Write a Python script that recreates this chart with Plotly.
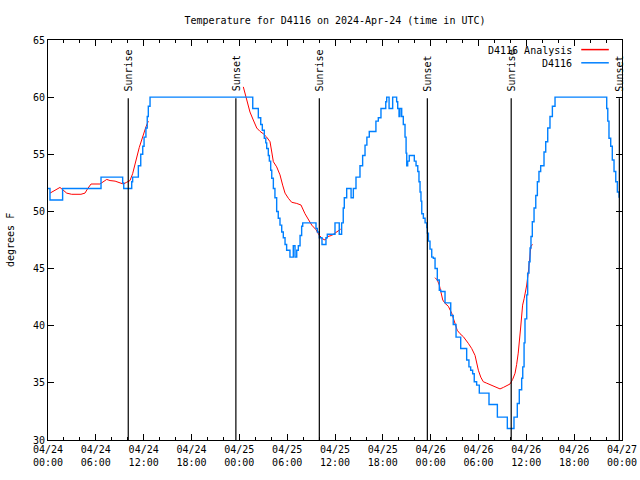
import plotly.graph_objects as go

# ---- data ----
obs_times = [
    "2024-04-24 00:00", "2024-04-24 00:15", "2024-04-24 01:50", "2024-04-24 06:39", "2024-04-24 09:22",
    "2024-04-24 09:30", "2024-04-24 10:30", "2024-04-24 10:37", "2024-04-24 11:20", "2024-04-24 11:38",
    "2024-04-24 11:53", "2024-04-24 12:03", "2024-04-24 12:17", "2024-04-24 12:27", "2024-04-24 12:35",
    "2024-04-24 12:48",
    "2024-04-25 01:41", "2024-04-25 02:23", "2024-04-25 02:41", "2024-04-25 02:53", "2024-04-25 03:08",
    "2024-04-25 03:19", "2024-04-25 03:26", "2024-04-25 03:38", "2024-04-25 03:46", "2024-04-25 03:56",
    "2024-04-25 04:04", "2024-04-25 04:16", "2024-04-25 04:28", "2024-04-25 04:41", "2024-04-25 04:53",
    "2024-04-25 05:06", "2024-04-25 05:19", "2024-04-25 05:31", "2024-04-25 05:44", "2024-04-25 05:56",
    "2024-04-25 06:21", "2024-04-25 06:46", "2024-04-25 06:59", "2024-04-25 07:12", "2024-04-25 07:24",
    "2024-04-25 07:37", "2024-04-25 07:49", "2024-04-25 07:57", "2024-04-25 09:37", "2024-04-25 09:47",
    "2024-04-25 10:02", "2024-04-25 10:22", "2024-04-25 10:52", "2024-04-25 11:02", "2024-04-25 12:00",
    "2024-04-25 12:32", "2024-04-25 12:50", "2024-04-25 13:02", "2024-04-25 13:10", "2024-04-25 13:28",
    "2024-04-25 14:01", "2024-04-25 14:18", "2024-04-25 14:38", "2024-04-25 15:08", "2024-04-25 15:28",
    "2024-04-25 15:46", "2024-04-25 16:00", "2024-04-25 16:18", "2024-04-25 17:08", "2024-04-25 17:26",
    "2024-04-25 17:46", "2024-04-25 18:22", "2024-04-25 18:29", "2024-04-25 18:47", "2024-04-25 19:14",
    "2024-04-25 19:44", "2024-04-25 19:52", "2024-04-25 20:02", "2024-04-25 20:09", "2024-04-25 20:22",
    "2024-04-25 20:34", "2024-04-25 20:47", "2024-04-25 20:55", "2024-04-25 21:00", "2024-04-25 21:07",
    "2024-04-25 21:19", "2024-04-25 21:57", "2024-04-25 22:10", "2024-04-25 22:23", "2024-04-25 22:32",
    "2024-04-25 22:40", "2024-04-25 22:47", "2024-04-25 22:53", "2024-04-25 23:05", "2024-04-25 23:18",
    "2024-04-25 23:31", "2024-04-25 23:35", "2024-04-25 23:43", "2024-04-25 23:55",
    "2024-04-26 00:08", "2024-04-26 00:20", "2024-04-26 00:33", "2024-04-26 00:50", "2024-04-26 01:05",
    "2024-04-26 01:16", "2024-04-26 01:48", "2024-04-26 02:31", "2024-04-26 02:50", "2024-04-26 03:11",
    "2024-04-26 03:46", "2024-04-26 04:31", "2024-04-26 04:48", "2024-04-26 05:01", "2024-04-26 05:16",
    "2024-04-26 05:28", "2024-04-26 05:46", "2024-04-26 06:06", "2024-04-26 07:19", "2024-04-26 08:22",
    "2024-04-26 09:37", "2024-04-26 10:27", "2024-04-26 10:52", "2024-04-26 11:07", "2024-04-26 11:25",
    "2024-04-26 11:33", "2024-04-26 11:43", "2024-04-26 11:50", "2024-04-26 12:03", "2024-04-26 12:10",
    "2024-04-26 12:20", "2024-04-26 12:28", "2024-04-26 12:35", "2024-04-26 12:45", "2024-04-26 12:58",
    "2024-04-26 13:11", "2024-04-26 13:23", "2024-04-26 13:35", "2024-04-26 13:48", "2024-04-26 14:13",
    "2024-04-26 14:26", "2024-04-26 14:41", "2024-04-26 14:58", "2024-04-26 15:16", "2024-04-26 15:36",
    "2024-04-26 22:05", "2024-04-26 22:13", "2024-04-26 22:22", "2024-04-26 22:35", "2024-04-26 22:47",
    "2024-04-26 23:00", "2024-04-26 23:13", "2024-04-26 23:25", "2024-04-26 23:38",
]
obs_temps = [
    52.0, 51.0, 52.0, 53.0, 52.5,
    52.0, 52.6, 53.0, 54.0, 55.0,
    55.7, 56.5, 57.3, 58.3, 59.2,
    60.0,
    59.0, 58.2, 57.6, 57.1, 56.4,
    56.0, 55.5, 54.9, 54.4, 53.6,
    52.9, 52.0, 51.2, 50.0, 49.4,
    48.8, 48.2, 47.7, 47.1, 46.6,
    46.0, 47.0, 46.0, 46.6, 47.0,
    47.9, 48.7, 49.0, 48.5, 48.2,
    47.7, 47.1, 47.7, 48.0, 49.0,
    48.0, 49.0, 50.3, 51.2, 52.0,
    51.2, 52.0, 53.0, 54.0, 54.9,
    55.8, 56.5, 57.0, 57.9, 58.2,
    59.0, 59.6, 60.0, 59.0, 60.0,
    59.6, 59.0, 58.3, 59.0, 58.3,
    57.6, 56.5, 55.1, 54.0, 54.4,
    54.9, 54.4, 54.0, 53.5, 52.6,
    51.7, 50.9, 49.8, 49.4, 49.0,
    48.6, 48.1, 47.4, 46.7,
    46.0, 45.9, 45.0, 44.0, 43.1,
    43.0, 42.0, 40.9, 40.1, 39.0,
    38.0, 37.0, 36.4, 36.1, 35.8,
    35.1, 34.8, 34.1, 33.1, 32.0,
    31.0, 32.0, 33.2, 34.4, 35.4,
    36.4, 38.5, 40.6, 42.7, 44.6,
    45.6, 46.8, 47.8, 49.1, 50.3,
    51.4, 52.6, 53.5, 54.0, 55.2,
    56.1, 57.3, 58.3, 59.2, 60.0,
    59.0, 57.9, 56.4, 55.7, 54.5,
    53.5, 52.6, 51.7, 51.2,
]

ana_times = [
    "2024-04-24 00:15", "2024-04-24 01:30", "2024-04-24 02:21", "2024-04-24 02:58", "2024-04-24 04:08",
    "2024-04-24 04:38", "2024-04-24 04:59", "2024-04-24 05:24", "2024-04-24 06:31", "2024-04-24 06:56",
    "2024-04-24 07:22", "2024-04-24 07:47", "2024-04-24 08:25", "2024-04-24 09:02", "2024-04-24 09:27",
    "2024-04-24 09:52", "2024-04-24 10:17", "2024-04-24 10:37", "2024-04-24 10:55", "2024-04-24 11:12",
    "2024-04-24 11:27", "2024-04-24 11:45", "2024-04-24 12:03", "2024-04-24 12:17", "2024-04-24 12:35",
    "2024-04-24 18:00",
    "2024-04-25 00:30", "2024-04-25 00:55", "2024-04-25 01:20", "2024-04-25 01:45", "2024-04-25 02:11",
    "2024-04-25 02:36", "2024-04-25 03:00", "2024-04-25 03:26", "2024-04-25 03:51", "2024-04-25 04:04",
    "2024-04-25 04:16", "2024-04-25 04:41", "2024-04-25 05:06", "2024-04-25 05:26", "2024-04-25 05:44",
    "2024-04-25 06:09", "2024-04-25 06:34", "2024-04-25 07:12", "2024-04-25 07:44", "2024-04-25 08:14",
    "2024-04-25 08:39", "2024-04-25 09:05", "2024-04-25 09:37", "2024-04-25 10:02", "2024-04-25 10:27",
    "2024-04-25 10:45", "2024-04-25 11:05", "2024-04-25 11:35", "2024-04-25 12:00", "2024-04-25 12:25",
    "2024-04-25 12:43",
    "2024-04-25 18:00",
    "2024-04-26 00:33", "2024-04-26 00:50", "2024-04-26 01:05", "2024-04-26 01:16", "2024-04-26 01:31",
    "2024-04-26 01:48", "2024-04-26 02:13", "2024-04-26 02:38", "2024-04-26 03:03", "2024-04-26 03:20",
    "2024-04-26 03:41", "2024-04-26 04:06", "2024-04-26 04:43", "2024-04-26 05:09", "2024-04-26 05:34",
    "2024-04-26 05:59", "2024-04-26 06:17", "2024-04-26 06:36", "2024-04-26 07:02", "2024-04-26 07:39",
    "2024-04-26 08:04", "2024-04-26 08:42", "2024-04-26 09:07", "2024-04-26 09:32", "2024-04-26 09:57",
    "2024-04-26 10:17", "2024-04-26 10:35", "2024-04-26 10:47", "2024-04-26 10:59", "2024-04-26 11:17",
    "2024-04-26 11:32", "2024-04-26 11:44", "2024-04-26 12:03", "2024-04-26 12:15", "2024-04-26 12:35",
    "2024-04-26 12:48",
]
ana_temps = [
    51.6, 52.1, 51.6, 51.5, 51.5,
    51.6, 52.0, 52.4, 52.4, 52.6,
    52.8, 52.7, 52.65, 52.5, 52.4,
    52.55, 52.7, 53.3, 54.2, 55.1,
    55.6, 56.25, 57.0, 57.4, 57.9,
    None,
    60.9, 59.9, 58.7, 58.0, 57.3,
    57.0, 56.8, 56.5, 56.1, 55.2,
    54.35, 53.9, 53.2, 52.3, 51.6,
    51.15, 50.8, 50.7, 50.56, 49.8,
    49.25, 48.8, 48.4, 47.9, 47.6,
    47.5, 47.8, 47.9, 48.1, 48.3,
    48.45,
    None,
    44.2, 44.0, 43.56, 43.0, 42.25,
    41.96, 41.7, 41.1, 40.2, 39.6,
    39.3, 39.04, 38.46, 38.0, 37.4,
    36.1, 35.5, 35.1, 34.97, 34.8,
    34.67, 34.47, 34.6, 34.75, 34.9,
    35.3, 35.84, 36.6, 37.6, 39.8,
    41.8, 42.4, 43.56, 44.7, 47.0,
    47.1,
]

event_times = ["2024-04-24 10:04", "2024-04-24 23:34", "2024-04-25 10:02",
               "2024-04-25 23:35", "2024-04-26 10:06", "2024-04-26 23:40"]
event_labels = ["Sunrise", "Sunset", "Sunrise", "Sunset", "Sunrise", "Sunset"]

tick_vals = ["2024-04-24 00:00", "2024-04-24 06:00", "2024-04-24 12:00", "2024-04-24 18:00",
             "2024-04-25 00:00", "2024-04-25 06:00", "2024-04-25 12:00", "2024-04-25 18:00",
             "2024-04-26 00:00", "2024-04-26 06:00", "2024-04-26 12:00", "2024-04-26 18:00",
             "2024-04-27 00:00"]
tick_labels = ["04/24<br>00:00", "04/24<br>06:00", "04/24<br>12:00", "04/24<br>18:00",
               "04/25<br>00:00", "04/25<br>06:00", "04/25<br>12:00", "04/25<br>18:00",
               "04/26<br>00:00", "04/26<br>06:00", "04/26<br>12:00", "04/26<br>18:00",
               "04/27<br>00:00"]

series_names = ["D4116 Analysis", "D4116"]
series_colors = ["#ff0000", "#0080ff"]

FONT = "DejaVu Sans Mono"

fig = go.Figure()
fig.add_trace(go.Scatter(x=ana_times, y=ana_temps, mode="lines", name=series_names[0],
                         line=dict(color=series_colors[0], width=1), connectgaps=False))
fig.add_trace(go.Scatter(x=obs_times, y=obs_temps, mode="lines", name=series_names[1],
                         line=dict(color=series_colors[1], width=1.4, shape="hv")))

shapes = []
annotations = []
for t, lab in zip(event_times, event_labels):
    shapes.append(dict(type="line", xref="x", yref="y", x0=t, x1=t, y0=30, y1=59.9,
                       line=dict(color="black", width=1.2)))
    annotations.append(dict(x=t, y=59.9, xref="x", yref="y", text=lab, showarrow=False,
                            textangle=-90, xanchor="center", yanchor="bottom", yshift=5,
                            font=dict(family=FONT, size=10, color="black")))

# legend (gnuplot style: text right-aligned, sample to the right)
leg_y = [0.974, 0.941]
for name, col, ly in zip(series_names, series_colors, leg_y):
    annotations.append(dict(x=0.917, y=ly, xref="paper", yref="paper", text=name,
                            showarrow=False, xanchor="right", yanchor="middle",
                            font=dict(family=FONT, size=10, color="black")))
    shapes.append(dict(type="line", xref="paper", yref="paper", x0=0.929, x1=0.977,
                       y0=ly + 0.002, y1=ly + 0.002, line=dict(color=col, width=1.5)))

annotations.append(dict(x=0, y=0.5, xref="paper", yref="paper", text="degrees F",
                        showarrow=False, textangle=-90, xanchor="center", yanchor="middle",
                        xshift=-38, font=dict(family=FONT, size=10, color="black")))

fig.update_layout(
    width=640, height=480,
    margin=dict(l=48, r=18, t=40, b=40, autoexpand=False),
    paper_bgcolor="white", plot_bgcolor="white",
    showlegend=False,
    hovermode=False,
    font=dict(family=FONT, size=10, color="black"),
    title=dict(text="Temperature for D4116 on 2024-Apr-24 (time in UTC)",
               x=0.5, xref="paper", y=1 - 20 / 480, yref="container",
               xanchor="center", yanchor="middle",
               font=dict(family=FONT, size=10, color="black")),
    shapes=shapes, annotations=annotations,
)
fig.update_xaxes(
    type="date", range=["2024-04-24 00:00", "2024-04-27 00:00"],
    tickmode="array", tickvals=tick_vals, ticktext=tick_labels,
    ticks="inside", ticklen=6, tickcolor="black", tickwidth=1,
    minor=dict(tickmode="linear", tick0="2024-04-24", dtick=2 * 3600 * 1000,
               ticks="inside", ticklen=3, tickcolor="black", showgrid=False),
    showline=True, linecolor="black", linewidth=1, mirror="allticks",
    showgrid=False, zeroline=False, automargin=False, tickfont=dict(family=FONT, size=10),
)
fig.update_yaxes(
    range=[30, 65], tickmode="linear", tick0=30, dtick=5,
    ticks="inside", ticklen=6, tickcolor="black", tickwidth=1,
    showline=True, linecolor="black", linewidth=1, mirror="allticks",
    showgrid=False, zeroline=False, automargin=False, tickfont=dict(family=FONT, size=10),
)

fig.write_html("out.html", config={"displayModeBar": False, "staticPlot": True})

# remove the browser's default page margin so the 640x480 figure fills the window
with open("out.html", "r", encoding="utf-8") as f:
    html = f.read()
html = html.replace("<head>", "<head><style>html,body{margin:0;padding:0;overflow:hidden;}</style>", 1)
with open("out.html", "w", encoding="utf-8") as f:
    f.write(html)
